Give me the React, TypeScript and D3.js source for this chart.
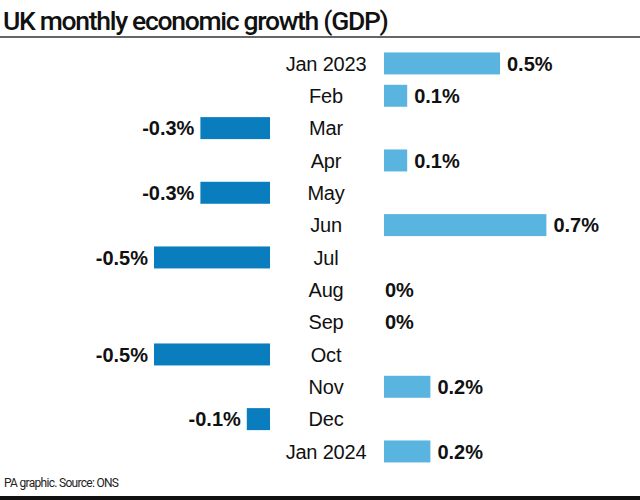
import React from "react";
import * as d3 from "d3";

const months = ["Jan 2023", "Feb", "Mar", "Apr", "May", "Jun", "Jul", "Aug", "Sep", "Oct", "Nov", "Dec", "Jan 2024"];
const values = [0.5, 0.1, -0.3, 0.1, -0.3, 0.7, -0.5, 0, 0, -0.5, 0.2, -0.1, 0.2];
const valueLabels = ["0.5%", "0.1%", "-0.3%", "0.1%", "-0.3%", "0.7%", "-0.5%", "0%", "0%", "-0.5%", "0.2%", "-0.1%", "0.2%"];

const W = 640;
const H = 500;
const POS = "#5ab4e0";
const NEG = "#0a7dbf";
const FONT = "'Liberation Sans', Arial, Helvetica, sans-serif";
const TITLE_FONT = "Roboto, 'Liberation Sans', Arial, sans-serif";

export default function App() {
  const len = d3.scaleLinear().domain([0, 1]).range([0, 232]);
  const y = d3.scaleBand<string>().domain(months).range([42.1, 472.8]).padding(0.32);
  const posZero = 384;
  const negZero = 270;
  const labelX = 326;
  return (
    <svg width={W} height={H} style={{ position: "absolute", left: 0, top: 0, background: "#fff" }} fontFamily={FONT}>
      <rect width={W} height={H} fill="#fff" />
      <text x={3} y={30} fontFamily={TITLE_FONT} fontSize={26.5} fontWeight={500} fill="#111" letterSpacing={-1.3}>UK monthly economic growth (GDP)</text>
      <line x1={0} x2={W} y1={37} y2={37} stroke="#333" strokeWidth={1.6} />
      {months.map((m, i) => {
        const v = values[i];
        const yy = y(m)!;
        const bh = y.bandwidth();
        const cy = yy + bh / 2;
        const w = len(Math.abs(v));
        return (
          <g key={m}>
            <text x={labelX} y={cy} dy="0.36em" textAnchor="middle" fontSize={20} fill="#111" letterSpacing={-0.2}>{m}</text>
            {v >= 0 ? (
              <>
                {v > 0 && <rect x={posZero} y={yy} width={w} height={bh} fill={POS} />}
                <text x={posZero + w + (v > 0 ? 7 : 1)} y={cy} dy="0.36em" fontSize={20} fontWeight={700} fill="#111">{valueLabels[i]}</text>
              </>
            ) : (
              <>
                <rect x={negZero - w} y={yy} width={w} height={bh} fill={NEG} />
                <text x={negZero - w - 6} y={cy} dy="0.36em" textAnchor="end" fontSize={20} fontWeight={700} fill="#111">{valueLabels[i]}</text>
              </>
            )}
          </g>
        );
      })}
      <text x={4} y={487} fontFamily={TITLE_FONT} fontSize={12} fill="#222" letterSpacing={-0.7}>PA graphic. Source: ONS</text>
      <rect x={0} y={496} width={W} height={4} fill="#111" />
    </svg>
  );
}
